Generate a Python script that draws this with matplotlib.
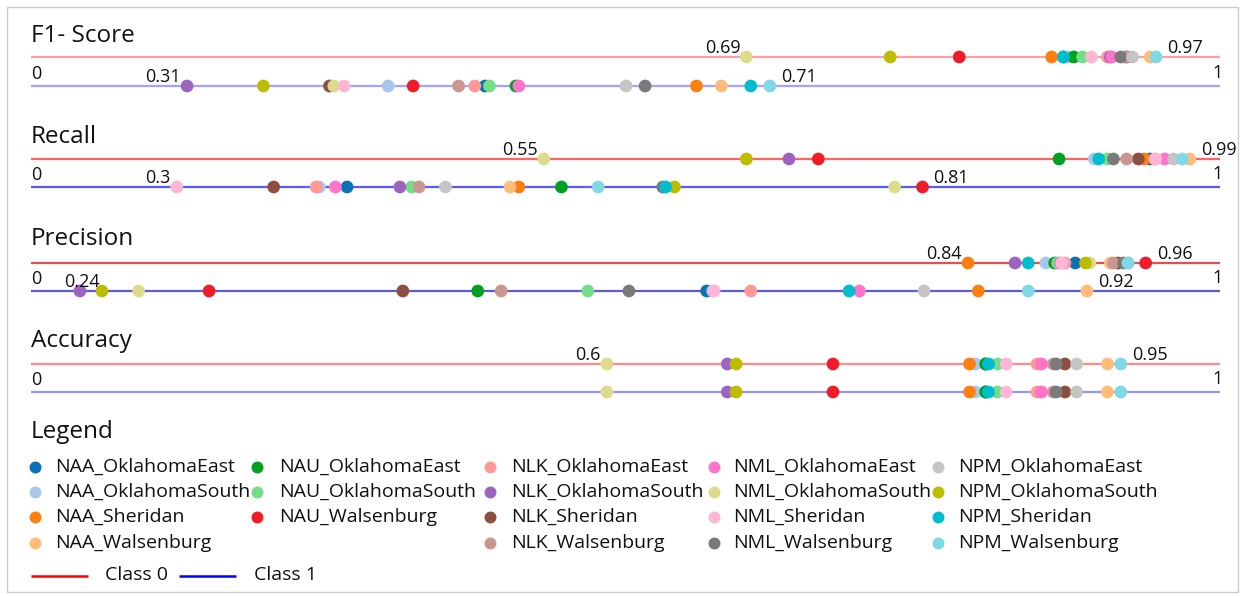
import matplotlib
matplotlib.use("Agg")
import matplotlib.pyplot as plt
from matplotlib.patches import Rectangle

plt.rcParams['font.family'] = ['Open Sans', 'DejaVu Sans']

# ---- data -------------------------------------------------------------
series = [
    "NAA_OklahomaEast", "NAA_OklahomaSouth", "NAA_Sheridan", "NAA_Walsenburg",
    "NAU_OklahomaEast", "NAU_OklahomaSouth", "NAU_Walsenburg",
    "NLK_OklahomaEast", "NLK_OklahomaSouth", "NLK_Sheridan", "NLK_Walsenburg",
    "NML_OklahomaEast", "NML_OklahomaSouth", "NML_Sheridan", "NML_Walsenburg",
    "NPM_OklahomaEast", "NPM_OklahomaSouth", "NPM_Sheridan", "NPM_Walsenburg",
]
colors = [
    "#0a72b5", "#a6c8ea", "#ff7f0e", "#ffbb78",
    "#00a023", "#74dd88", "#ee1d27",
    "#ff9896", "#9d63c0", "#8c4f40", "#c99790",
    "#ff73c8", "#dcdc8c", "#ffb6d5", "#7a7a7a",
    "#c5c5c5", "#bdbd00", "#00becf", "#7fd8e5",
]

metric_names = ["F1- Score", "Recall", "Precision", "Accuracy"]

f1_class0 = [0.907, 0.910, 0.899, 0.966, 0.914, 0.920, 0.836, 0.937, 0.939, 0.950,
             0.949, 0.940, 0.691, 0.926, 0.946, 0.954, 0.789, 0.907, 0.970]
f1_class1 = [0.513, 0.447, 0.657, 0.674, 0.534, 0.516, 0.464, 0.506, 0.310, 0.407,
             0.495, 0.536, 0.410, 0.417, 0.622, 0.609, 0.362, 0.694, 0.707]

recall_class0 = [0.966, 0.928, 0.962, 0.993, 0.904, 0.937, 0.740, 0.969, 0.720, 0.958,
                 0.950, 0.976, 0.553, 0.970, 0.941, 0.982, 0.691, 0.931, 0.988]
recall_class1 = [0.419, 0.400, 0.536, 0.530, 0.565, 0.463, 0.811, 0.398, 0.455, 0.369,
                 0.468, 0.411, 0.792, 0.303, 0.634, 0.486, 0.642, 0.636, 0.590]

precision_class0 = [0.915, 0.895, 0.842, 0.939, 0.901, 0.903, 0.963, 0.908, 0.874, 0.944,
                    0.941, 0.905, 0.925, 0.906, 0.948, 0.951, 0.922, 0.883, 0.951]
precision_class1 = [0.664, 0.668, 0.849, 0.923, 0.508, 0.583, 0.325, 0.694, 0.237, 0.457,
                    0.524, 0.768, 0.277, 0.669, 0.611, 0.812, 0.252, 0.761, 0.883]

accuracy_class0 = [0.854, 0.847, 0.843, 0.937, 0.854, 0.862, 0.750, 0.889, 0.678, 0.908,
                   0.900, 0.892, 0.596, 0.868, 0.902, 0.916, 0.684, 0.856, 0.946]
accuracy_class1 = list(accuracy_class0)

class_names = ["Class 0", "Class 1"]

# ---- layout -------------------------------------------------------------
W, H = 1243, 596
fig = plt.figure(figsize=(W / 100, H / 100), dpi=100)

# pixel-space axes for frame, titles and legend
lay = fig.add_axes([0, 0, 1, 1])
lay.set_xlim(0, W)
lay.set_ylim(H, 0)
lay.axis("off")

# value-space axes: 0.2 .. 1.0 spans the strip used by the dots
X0_PX, X1_PX = 25.6, 1200.0
dat = fig.add_axes([X0_PX / W, 0, (X1_PX - X0_PX) / W, 1])
dat.set_xlim(0.2, 1.0)
dat.set_ylim(H, 0)
dat.axis("off")
dat.patch.set_alpha(0)

lay.add_patch(Rectangle((7, 7), 1231, 585, fill=False, ec="#cccccc", lw=1.0))

# (class 0 values, class 1 values, title baseline, class 0 y, class 1 y,
#  class 0 line colour, class 1 line colour, label class 1 extremes)
panels = [
    (f1_class0, f1_class1, 42, 57, 86, "#ffa0a0", "#a3a3ff", True),
    (recall_class0, recall_class1, 143, 159, 187, "#ff6464", "#5a5aff", True),
    (precision_class0, precision_class1, 245, 263, 291, "#dc5252", "#5c5cd6", True),
    (accuracy_class0, accuracy_class1, 347, 364, 392, "#ff8c8c", "#9494ff", False),
]

LINE_X0, LINE_X1 = 31, 1220
TEXT = "#111111"
DOT = 84


def fmt(v):
    return f"{v:.2f}".rstrip("0").rstrip(".")


def label_extremes(vals, y):
    vmin, vmax = min(vals), max(vals)
    # minimum: to the left of its dot, unless it would run into the axis start
    if X0_PX + (vmin - 0.2) / 0.8 * (X1_PX - X0_PX) < 110:
        dat.annotate(fmt(vmin), xy=(vmin, y), xytext=(2, 4), textcoords="offset pixels",
                     ha="center", va="baseline", fontsize=13, color=TEXT)
    else:
        dat.annotate(fmt(vmin), xy=(vmin, y), xytext=(-6, 4), textcoords="offset pixels",
                     ha="right", va="baseline", fontsize=13, color=TEXT)
    dat.annotate(fmt(vmax), xy=(vmax, y), xytext=(11, 4), textcoords="offset pixels",
                 ha="left", va="baseline", fontsize=13, color=TEXT)


for name, (c0, c1, ty, y0, y1, col0, col1, label_c1) in zip(metric_names, panels):
    lay.text(31, ty, name, fontsize=17.5, color=TEXT, ha="left", va="baseline")
    lay.plot([LINE_X0, LINE_X1], [y0, y0], color=col0, lw=1.6, solid_capstyle="butt")
    lay.plot([LINE_X0, LINE_X1], [y1, y1], color=col1, lw=1.6, solid_capstyle="butt")
    lay.text(31, y1 - 7, "0", fontsize=13, color=TEXT, ha="left", va="baseline")
    lay.text(1223, y1 - 8, "1", fontsize=13, color=TEXT, ha="right", va="baseline")
    dat.scatter(c0, [y0] * len(c0), c=colors, s=DOT, linewidths=0, zorder=3, clip_on=False)
    dat.scatter(c1, [y1] * len(c1), c=colors, s=DOT, linewidths=0, zorder=3, clip_on=False)
    label_extremes(c0, y0)
    if label_c1:
        label_extremes(c1, y1)

# ---- legend -------------------------------------------------------------
lay.text(31, 438, "Legend", fontsize=17.5, color=TEXT, ha="left", va="baseline")

col_marker_x = [35, 257, 490, 714, 938]
col_text_x = [55, 279, 511, 733, 958]
row_y = [466.5, 491.7, 516.7, 543.0]

prefixes = []
for s in series:
    p = s.split("_")[0]
    if p not in prefixes:
        prefixes.append(p)

for ci, p in enumerate(prefixes):
    members = [i for i, s in enumerate(series) if s.startswith(p + "_")]
    for ri, i in enumerate(members):
        lay.scatter([col_marker_x[ci]], [row_y[ri]], s=74, color=colors[i], linewidths=0)
        lay.text(col_text_x[ci], row_y[ri] + 0.5, series[i], fontsize=14, color=TEXT,
                 ha="left", va="center")

class_line_x = [(31, 88), (179, 236)]
class_text_x = [105, 254]
for (xa, xb), tx, col, nm in zip(class_line_x, class_text_x, ["red", "blue"], class_names):
    lay.plot([xa, xb], [575.5, 575.5], color=col, lw=1.8, solid_capstyle="butt")
    lay.text(tx, 575.5, nm, fontsize=14, color=TEXT, ha="left", va="center")

fig.savefig("out.png", dpi=100)
